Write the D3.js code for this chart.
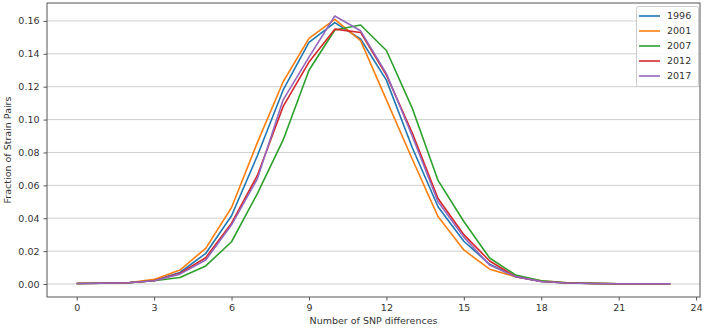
<!DOCTYPE html>
<html><head><meta charset="utf-8">
<script src="https://cdn.jsdelivr.net/npm/d3@7"></script>
<style>body{margin:0;background:#fff}svg{display:block}text{font-family:"DejaVu Sans",sans-serif;fill:#333}</style>
</head><body><svg id="c" width="707" height="328"></svg>
<script>
const snpDiffs = d3.range(0, 24);
const years = ["1996", "2001", "2007", "2012", "2017"];
const s1996 = [0.0003,0.0005,0.0008,0.0022,0.0070,0.0186,0.0415,0.0780,0.1180,0.1470,0.1590,0.1490,0.1240,0.0830,0.0470,0.0260,0.0120,0.0045,0.0015,0.0006,0.0003,0.0002,0.0002,0.0002];
const s2001 = [0.0003,0.0005,0.0008,0.0028,0.0085,0.0217,0.0465,0.0860,0.1230,0.1494,0.1610,0.1480,0.1120,0.0760,0.0410,0.0207,0.0090,0.0045,0.0020,0.0008,0.0004,0.0002,0.0002,0.0002];
const s2007 = [0.0003,0.0005,0.0008,0.0020,0.0040,0.0110,0.0257,0.0550,0.0876,0.1300,0.1545,0.1575,0.1420,0.1070,0.0630,0.0380,0.0158,0.0055,0.0020,0.0008,0.0004,0.0002,0.0002,0.0002];
const s2012 = [0.0003,0.0005,0.0008,0.0020,0.0065,0.0160,0.0370,0.0660,0.1080,0.1350,0.1550,0.1530,0.1270,0.0920,0.0520,0.0300,0.0140,0.0045,0.0015,0.0006,0.0003,0.0002,0.0002,0.0002];
const s2017 = [0.0003,0.0005,0.0008,0.0020,0.0060,0.0146,0.0360,0.0640,0.1120,0.1380,0.1630,0.1540,0.1280,0.0900,0.0500,0.0285,0.0115,0.0045,0.0015,0.0006,0.0003,0.0002,0.0002,0.0002];
const seriesValues = [s1996, s2001, s2007, s2012, s2017];
const colors = ["#1f77b4", "#ff7f0e", "#2ca02c", "#d62728", "#9467bd"];
const xTicks = [0, 3, 6, 9, 12, 15, 18, 21, 24];
const yTicks = [0, 0.02, 0.04, 0.06, 0.08, 0.10, 0.12, 0.14, 0.16];

const svg = d3.select("#c");
const L = 47, R = 700, T = 3, B = 297;
const x = d3.scaleLinear().domain([-1.15, 24.15]).range([L, R]);
const y = d3.scaleLinear().domain([-0.0079, 0.1709]).range([B, T]);

// gridlines
svg.append("g").selectAll("line").data(yTicks).join("line")
  .attr("x1", L).attr("x2", R).attr("y1", d => y(d)).attr("y2", d => y(d))
  .attr("stroke", "#cfcfcf").attr("stroke-width", 1);

// axes
const xa = svg.append("g").attr("transform", `translate(0,${B})`)
  .call(d3.axisBottom(x).tickValues(xTicks).tickFormat(d3.format("d")).tickSize(3.5).tickPadding(4));
const ya = svg.append("g").attr("transform", `translate(${L},0)`)
  .call(d3.axisLeft(y).tickValues(yTicks).tickFormat(d3.format(".2f")).tickSize(3.5).tickPadding(4));
[xa, ya].forEach(g => {
  g.select(".domain").remove();
  g.selectAll("line").attr("stroke", "#555");
  g.selectAll("text").style("font-size", "9.5px").attr("fill", "#333").style("font-family", "DejaVu Sans");
});

// lines
const line = d3.line().x((d, i) => x(snpDiffs[i])).y(d => y(d));
seriesValues.forEach((s, k) => {
  svg.append("path").datum(s).attr("d", line).attr("fill", "none")
    .attr("stroke", colors[k]).attr("stroke-width", 1.6).attr("stroke-linejoin", "round");
});

// frame
svg.append("rect").attr("x", L).attr("y", T).attr("width", R - L).attr("height", B - T)
  .attr("fill", "none").attr("stroke", "#555").attr("stroke-width", 1);

// labels
svg.append("text").attr("x", (L + R) / 2).attr("y", 324).attr("text-anchor", "middle")
  .style("font-size", "9.5px").text("Number of SNP differences");
svg.append("text").attr("transform", `translate(11,${(T + B) / 2}) rotate(-90)`).attr("text-anchor", "middle")
  .style("font-size", "9.5px").text("Fraction of Strain Pairs");

// legend
const lg = svg.append("g");
lg.append("rect").attr("x", 636.5).attr("y", 6.5).attr("width", 62).attr("height", 80).attr("rx", 2)
  .attr("fill", "#fff").attr("fill-opacity", 0.85).attr("stroke", "#ccc");
years.forEach((yr, i) => {
  const cy = 16 + i * 15;
  lg.append("line").attr("x1", 639).attr("x2", 660).attr("y1", cy).attr("y2", cy)
    .attr("stroke", colors[i]).attr("stroke-width", 1.6);
  lg.append("text").attr("x", 667).attr("y", cy).attr("dy", "0.35em").style("font-size", "9.5px").text(yr);
});
</script></body></html>
